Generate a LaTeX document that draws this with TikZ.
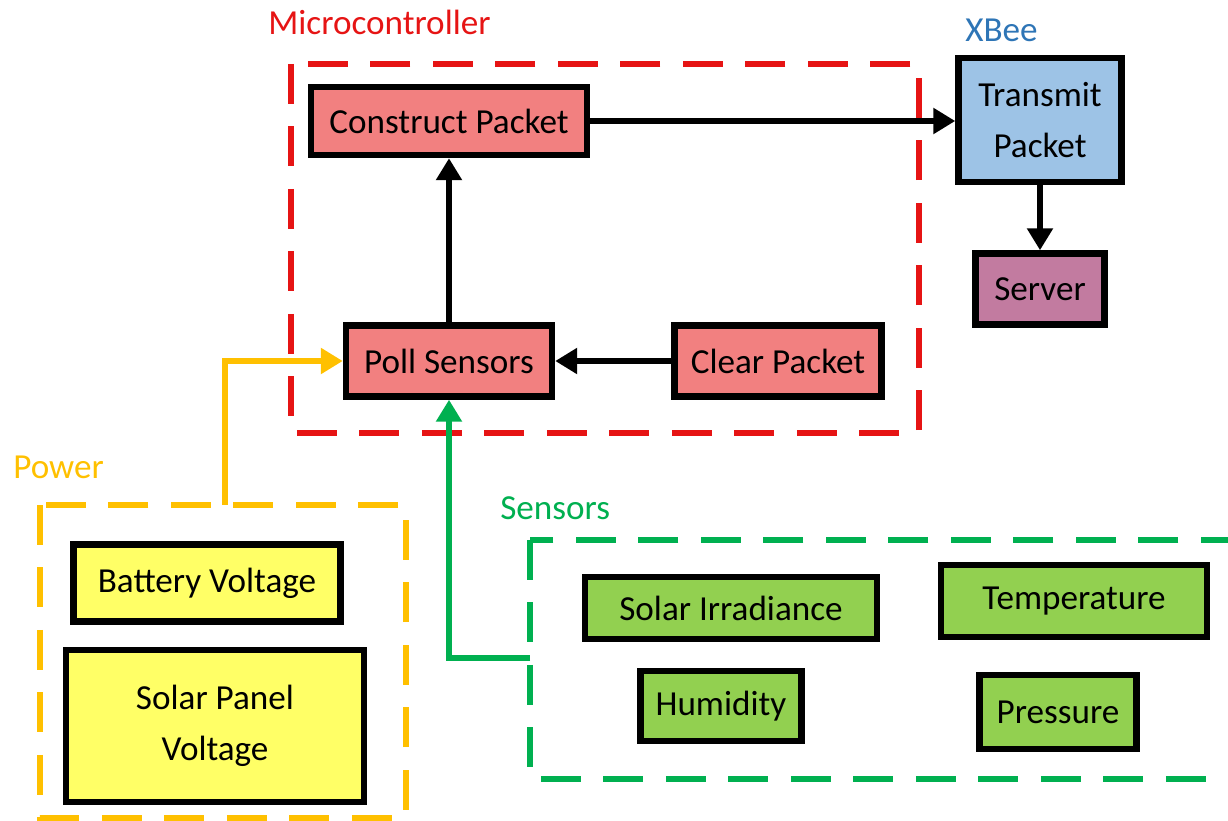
\documentclass[tikz,border=0pt]{standalone}
\usepackage{fontspec}
\setmainfont{Carlito}
\usepackage{tikz}
\usetikzlibrary{arrows.meta}

\definecolor{mcred}{RGB}{230,20,20}
\definecolor{mcfill}{RGB}{242,128,128}
\definecolor{xbblue}{RGB}{46,117,182}
\definecolor{xbfill}{RGB}{157,195,230}
\definecolor{srvfill}{RGB}{194,123,160}
\definecolor{pwyel}{RGB}{255,192,0}
\definecolor{pwfill}{RGB}{255,255,102}
\definecolor{sngreen}{RGB}{0,176,80}
\definecolor{snfill}{RGB}{146,208,80}

\tikzset{
  blk/.style={draw=black,line width=0.13cm,inner sep=0pt,align=center,
    font=\fontsize{20}{29}\selectfont},
  grp/.style={line width=0.12cm,dash pattern=on 0.8cm off 0.45cm},
  lbl/.style={anchor=west,inner sep=0pt,font=\fontsize{20}{24}\selectfont},
  flow/.style={line width=0.11cm,-{Triangle[length=0.44cm,width=0.5cm]}}
}

\begin{document}
\begin{tikzpicture}[x=0.02cm,y=-0.02cm]
\useasboundingbox (0,0) rectangle (1228,821);
\draw[grp,mcred] (291,64) rectangle (919,433);
\draw[grp,pwyel] (40,505) rectangle (406,818);
\draw[grp,sngreen] (530,540) rectangle (1240,779);
\node[lbl,text=mcred] (mclbl) at (268,22) {Microcontroller};
\node[lbl,text=xbblue] (xblbl) at (965,30) {XBee};
\node[lbl,text=pwyel] (pwlbl) at (13,467) {Power};
\node[lbl,text=sngreen] (snlbl) at (500,508) {Sensors};
\node[blk,fill=mcfill,minimum width=5.52cm,minimum height=1.36cm] (construct) at (449,121) {Construct Packet};
\node[blk,fill=mcfill,minimum width=4.12cm,minimum height=1.42cm] (poll) at (449,361) {Poll Sensors};
\node[blk,fill=mcfill,minimum width=4.14cm,minimum height=1.42cm] (clear) at (778,361) {Clear Packet};
\node[blk,fill=xbfill,minimum width=3.26cm,minimum height=2.48cm] (transmit) at (1040,120) {Transmit\\Packet};
\node[blk,fill=srvfill,minimum width=2.58cm,minimum height=1.42cm] (server) at (1040,289) {Server};
\node[blk,fill=pwfill,minimum width=5.34cm,minimum height=1.54cm] (battery) at (207,583) {Battery Voltage};
\node[blk,fill=pwfill,minimum width=5.96cm,minimum height=3.04cm] (solarpanel) at (215,726) {Solar Panel\\Voltage};
\node[blk,fill=snfill,minimum width=5.84cm,minimum height=1.24cm] (irradiance) at (731,608) {Solar Irradiance};
\node[blk,fill=snfill,minimum width=5.32cm,minimum height=1.44cm] (temperature) at (1074,601) {Temperature};
\node[blk,fill=snfill,minimum width=3.22cm,minimum height=1.40cm] (humidity) at (721,706) {Humidity};
\node[blk,fill=snfill,minimum width=3.14cm,minimum height=1.48cm] (pressure) at (1058,712) {Pressure};
\coordinate (powout) at (225,505);
\coordinate (sensin) at (530,658);
\draw[flow] (construct.east) -- (construct.east -| transmit.west);
\draw[flow] (poll.north) -- (construct.south);
\draw[flow] (clear.west) -- (poll.east);
\draw[flow] (transmit.south) -- (server.north);
\draw[flow,pwyel] (powout) |- (poll.west);
\draw[flow,sngreen] (sensin) -| (poll.south);
\end{tikzpicture}
\end{document}
